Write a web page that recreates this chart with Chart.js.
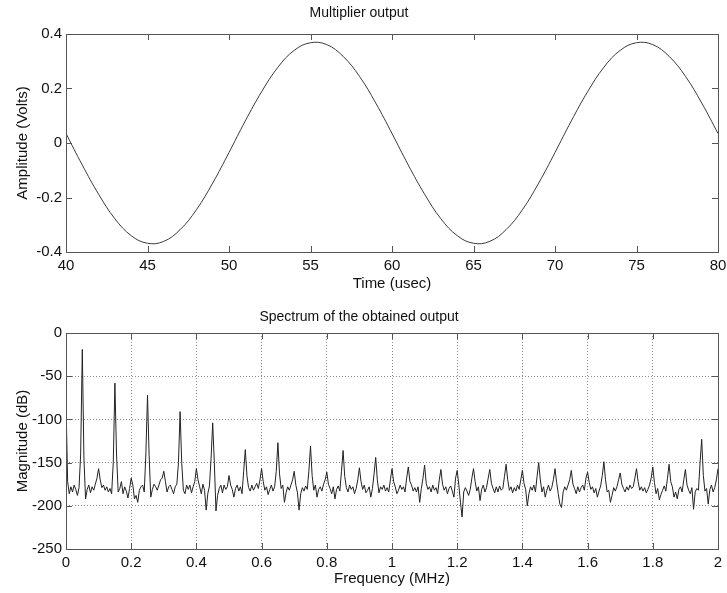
<!DOCTYPE html>
<html>
<head>
<meta charset="utf-8">
<script src="https://cdn.jsdelivr.net/npm/chart.js@4.4.1/dist/chart.umd.min.js"></script>
<style>
  body { margin: 0; background: #fff; }
  #wrap { position: relative; width: 727px; height: 593px; }
  canvas { position: absolute; left: 0; }
  #top { top: 0; }
  #bottom { top: 300px; }
</style>
</head>
<body>
<div id="wrap">
  <canvas id="top" width="727" height="300"></canvas>
  <canvas id="bottom" width="727" height="293"></canvas>
</div>
<script>
// top plot: multiplier output
const timeUs = [40, 41, 42, 43, 44, 45, 46, 47, 48, 49, 50, 51, 52, 53, 54, 55, 56, 57, 58, 59,
  60, 61, 62, 63, 64, 65, 66, 67, 68, 69, 70, 71, 72, 73, 74, 75, 76, 77, 78, 79, 80]
const amplitudeV = [0.035, -0.081, -0.188, -0.278, -0.340, -0.368, -0.361, -0.318, -0.245, -0.147,
  -0.035, 0.081, 0.188, 0.278, 0.340, 0.368, 0.361, 0.318, 0.245, 0.147,
  0.035, -0.081, -0.188, -0.278, -0.340, -0.368, -0.361, -0.318, -0.245, -0.147,
  -0.035, 0.081, 0.188, 0.278, 0.340, 0.368, 0.361, 0.318, 0.245, 0.147, 0.035]
const timeTicks = [40, 45, 50, 55, 60, 65, 70, 75, 80]
const ampTicks = [-0.4, -0.2, 0, 0.2, 0.4]

// bottom plot: spectrum, one value every 0.005 MHz from 0 to 2 MHz
const freqStepMHz = 0.005
const magnitudeDb = [
  -80, -172, -186, -178, -184, -176, -181, -188, -179, -140,
  -19, -145, -192, -181, -176, -185, -178, -182, -175, -168,
  -157, -170, -179, -176, -182, -178, -184, -180, -186, -150,
  -58, -140, -184, -180, -172, -186, -178, -183, -191, -180,
  -168, -176, -192, -188, -196, -182, -178, -176, -184, -140,
  -72, -142, -190, -181, -175, -178, -182, -176, -170, -168,
  -160, -172, -184, -178, -176, -181, -186, -178, -175, -150,
  -91, -150, -182, -186, -176, -181, -176, -185, -178, -172,
  -157, -170, -178, -186, -175, -182, -205, -186, -177, -145,
  -104, -150, -206, -188, -180, -176, -185, -176, -181, -178,
  -165, -176, -181, -190, -180, -176, -183, -178, -186, -160,
  -135, -165, -179, -183, -176, -182, -178, -174, -180, -170,
  -157, -172, -182, -178, -187, -181, -176, -183, -178, -160,
  -127, -163, -180, -176, -196, -185, -178, -182, -176, -170,
  -160, -176, -185, -205, -186, -179, -183, -177, -181, -160,
  -131, -165, -182, -176, -190, -181, -178, -183, -175, -170,
  -161, -175, -180, -186, -178, -192, -181, -177, -183, -160,
  -136, -166, -179, -184, -176, -181, -178, -186, -180, -170,
  -156, -172, -181, -176, -185, -182, -178, -190, -180, -163,
  -144, -170, -185, -178, -181, -176, -183, -179, -184, -170,
  -157, -172, -178, -186, -182, -176, -181, -178, -184, -168,
  -155, -172, -176, -183, -179, -184, -178, -196, -180, -168,
  -153, -174, -181, -178, -184, -176, -182, -179, -186, -170,
  -158, -175, -182, -178, -186, -180, -177, -183, -190, -168,
  -159, -176, -196, -213, -184, -179, -183, -188, -181, -168,
  -157, -172, -183, -178, -194, -181, -176, -184, -179, -168,
  -158, -174, -180, -185, -178, -184, -177, -182, -180, -166,
  -152, -170, -182, -178, -185, -179, -183, -176, -181, -170,
  -159, -174, -181, -200, -186, -178, -182, -176, -184, -166,
  -150, -170, -184, -178, -190, -182, -176, -183, -179, -170,
  -157, -173, -186, -198, -202, -184, -178, -182, -176, -170,
  -159, -175, -180, -186, -178, -184, -179, -176, -182, -168,
  -161, -173, -181, -178, -185, -180, -190, -183, -177, -165,
  -149, -170, -184, -182, -196, -188, -179, -183, -178, -170,
  -162, -175, -180, -184, -178, -182, -176, -180, -178, -168,
  -157, -172, -182, -178, -183, -179, -185, -181, -176, -168,
  -155, -173, -186, -180, -193, -187, -182, -177, -183, -168,
  -152, -172, -178, -190, -184, -192, -181, -178, -184, -170,
  -158, -176, -182, -186, -179, -204, -184, -180, -182, -150,
  -123, -165, -183, -180, -198, -181, -176, -184, -179, -170,
  -157
]
const freqTicks = [0, 0.2, 0.4, 0.6, 0.8, 1, 1.2, 1.4, 1.6, 1.8, 2]
const dbTicks = [-250, -200, -150, -100, -50, 0]

const axisColor = '#555'
const textColor = '#111'
Chart.defaults.font.family = '"Liberation Sans", Arial, sans-serif'
Chart.defaults.font.size = 14
Chart.defaults.color = textColor

// matlab style box with inward ticks
const boxTicks = {
  id: 'boxTicks',
  afterDraw(chart) {
    const ctx = chart.ctx
    const a = chart.chartArea
    const sx = chart.scales.x, sy = chart.scales.y
    ctx.save()
    ctx.strokeStyle = axisColor
    ctx.lineWidth = 1
    ctx.beginPath()
    sx.ticks.forEach(t => {
      const px = Math.round(sx.getPixelForValue(t.value)) + 0.5
      ctx.moveTo(px, a.bottom); ctx.lineTo(px, a.bottom - 6)
      ctx.moveTo(px, a.top); ctx.lineTo(px, a.top + 6)
    })
    sy.ticks.forEach(t => {
      const py = Math.round(sy.getPixelForValue(t.value)) + 0.5
      ctx.moveTo(a.left, py); ctx.lineTo(a.left + 6, py)
      ctx.moveTo(a.right, py); ctx.lineTo(a.right - 6, py)
    })
    ctx.stroke()
    ctx.strokeRect(Math.round(a.left) + 0.5, Math.round(a.top) + 0.5, Math.round(a.width), Math.round(a.height))
    ctx.restore()
  }
}

const plainNumber = v => String(Math.round(v * 1000) / 1000)

function makeScales(opts) {
  return {
    x: {
      type: 'linear', min: opts.xMin, max: opts.xMax,
      afterBuildTicks: s => { s.ticks = opts.xTicks.map(v => ({ value: v })) },
      afterFit: s => { s.height = opts.xHeight; s.paddingLeft = 0; s.paddingRight = 0 },
      ticks: { padding: 5, autoSkip: false, maxRotation: 0, color: textColor, font: { size: 15 }, callback: plainNumber },
      grid: { display: opts.grid, drawTicks: false, color: '#8a8a8a' },
      border: { display: false, dash: [1, 2] },
      title: { display: true, text: opts.xTitle, padding: { top: 0, bottom: opts.xTitlePad }, font: { size: 15 } }
    },
    y: {
      min: opts.yMin, max: opts.yMax,
      afterBuildTicks: s => { s.ticks = opts.yTicks.map(v => ({ value: v })) },
      afterFit: s => { s.width = 66; s.paddingTop = 0; s.paddingBottom = 0 },
      ticks: { padding: 4, autoSkip: false, color: textColor, font: { size: 15 }, callback: plainNumber },
      grid: { display: opts.grid, drawTicks: false, color: '#8a8a8a' },
      border: { display: false, dash: [1, 2] },
      title: { display: true, text: opts.yTitle, padding: { top: 14, bottom: 0 }, font: { size: 15 } }
    }
  }
}

new Chart(document.getElementById('top'), {
  type: 'line',
  data: {
    datasets: [{
      data: timeUs.map((t, i) => ({ x: t, y: amplitudeV[i] })),
      borderColor: '#3a3a3a',
      borderWidth: 1,
      pointRadius: 0,
      tension: 0.4
    }]
  },
  options: {
    responsive: false,
    animation: false,
    devicePixelRatio: 1,
    layout: { padding: { left: 0, right: 9, top: 0, bottom: 0 } },
    plugins: {
      legend: { display: false },
      tooltip: { enabled: false },
      title: { display: true, text: 'Multiplier output', font: { size: 14, weight: 'normal' }, color: textColor, padding: { top: 5, bottom: 12.2 } }
    },
    scales: makeScales({
      xMin: 40, xMax: 80, xTicks: timeTicks, xHeight: 48, xTitle: 'Time (usec)', xTitlePad: 7,
      yMin: -0.4, yMax: 0.4, yTicks: ampTicks, yTitle: 'Amplitude (Volts)', grid: false
    })
  },
  plugins: [boxTicks]
})

new Chart(document.getElementById('bottom'), {
  type: 'line',
  data: {
    datasets: [{
      data: magnitudeDb.map((v, i) => ({ x: i * freqStepMHz, y: v })),
      borderColor: '#222',
      borderWidth: 1,
      pointRadius: 0,
      tension: 0
    }]
  },
  options: {
    responsive: false,
    animation: false,
    devicePixelRatio: 1,
    layout: { padding: { left: 0, right: 9, top: 0, bottom: 0 } },
    plugins: {
      legend: { display: false },
      tooltip: { enabled: false },
      title: { display: true, text: 'Spectrum of the obtained output', font: { size: 14, weight: 'normal' }, color: textColor, padding: { top: 8.6, bottom: 7.6 } }
    },
    scales: makeScales({
      xMin: 0, xMax: 2, xTicks: freqTicks, xHeight: 44, xTitle: 'Frequency (MHz)', xTitlePad: 5,
      yMin: -250, yMax: 0, yTicks: dbTicks, yTitle: 'Magnitude (dB)', grid: true
    })
  },
  plugins: [boxTicks]
})
</script>
</body>
</html>
